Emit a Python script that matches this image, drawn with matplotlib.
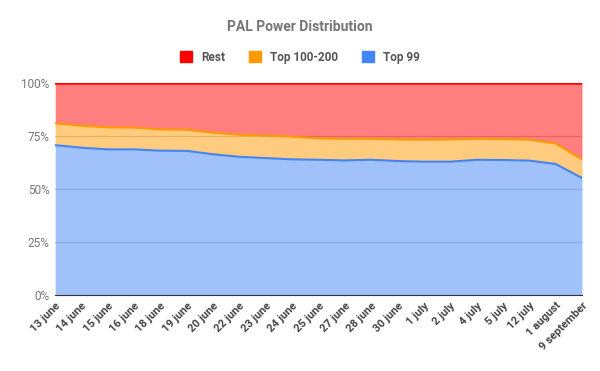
import matplotlib
matplotlib.use('Agg')
import matplotlib.pyplot as plt
from matplotlib.patches import Patch
import numpy as np

#====================
# Data
#====================
dates = ['13 june', '14 june', '15 june', '16 june', '18 june', '19 june',
         '20 june', '22 june', '23 june', '24 june', '25 june', '27 june',
         '28 june', '30 june', '1 july', '2 july', '4 july', '5 july',
         '12 july', '1 august', '9 september']
top99 = [70.7, 69.5, 68.7, 68.7, 68.1, 68.0, 66.4, 65.2, 64.6, 64.0, 63.8,
         63.5, 63.8, 63.2, 62.9, 62.9, 63.8, 63.7, 63.4, 61.8, 55.2]
top100_200 = [10.3, 10.4, 10.4, 10.3, 10.0, 10.0, 10.2, 10.4, 10.6, 10.7, 10.1,
              10.2, 9.9, 10.2, 10.4, 10.5, 9.9, 9.9, 9.9, 9.7, 8.8]
rest = [19.0, 20.1, 20.9, 21.0, 21.9, 22.0, 23.4, 24.4, 24.8, 25.3, 26.1,
        26.3, 26.3, 26.6, 26.7, 26.6, 26.3, 26.4, 26.7, 28.5, 36.0]

#====================
# Plot
#====================
plt.rcParams['font.family'] = ['Roboto', 'DejaVu Sans']
fig = plt.figure(figsize=(6, 3.71), dpi=100)
ax = fig.add_axes([0.092, 0.205, 0.878, 0.571])

x = np.arange(len(dates))
total = np.array(top99) + np.array(top100_200) + np.array(rest)
s1 = np.array(top99) / total * 100
s2 = s1 + np.array(top100_200) / total * 100
s3 = s2 + np.array(rest) / total * 100

blue, orange, red = '#4285f4', '#ff9900', '#ff0000'
ax.fill_between(x, 0, s1, color=blue, alpha=0.5, lw=0, zorder=2)
ax.fill_between(x, s1, s2, color=orange, alpha=0.5, lw=0, zorder=2)
ax.fill_between(x, s2, s3, color=red, alpha=0.5, lw=0, zorder=2)
ax.plot(x, s1, color=blue, lw=1.5, zorder=3)
ax.plot(x, s2, color=orange, lw=1.5, zorder=3)
ax.plot(x, s3, color=red, lw=1.8, zorder=3)

ax.set_xlim(0, len(dates) - 1)
ax.set_ylim(0, 100)
ax.set_yticks([0, 25, 50, 75, 100])
ax.set_yticklabels(['0%', '25%', '50%', '75%', '100%'], color='#757575', fontsize=8.5)
ax.set_xticks(x)
ax.set_xticklabels(dates, rotation=45, ha='right', rotation_mode='anchor',
                   fontsize=8, fontweight='bold', color='#444444')
ax.tick_params(length=0, pad=4)
ax.grid(axis='y', color='#cccccc', lw=0.8, zorder=1)
for s in ['top', 'right', 'left']:
    ax.spines[s].set_visible(False)
ax.spines['bottom'].set_color('#333333')
ax.spines['bottom'].set_zorder(4)

fig.text(0.5, 0.927, 'PAL Power Distribution', ha='center', va='center',
         fontsize=10, fontweight='bold', color='#757575')
handles = [Patch(color=red, label='Rest'),
           Patch(color=orange, label='Top 100-200'),
           Patch(color=blue, label='Top 99')]
leg = fig.legend(handles=handles, loc='center', bbox_to_anchor=(0.5, 0.846),
                 ncol=3, frameon=False, fontsize=8.5, handlelength=1.0,
                 handleheight=1.0, handletextpad=0.8, columnspacing=2.0)
for t in leg.get_texts():
    t.set_color('#555555')
    t.set_fontweight('bold')

fig.savefig('out.png', dpi=100)
